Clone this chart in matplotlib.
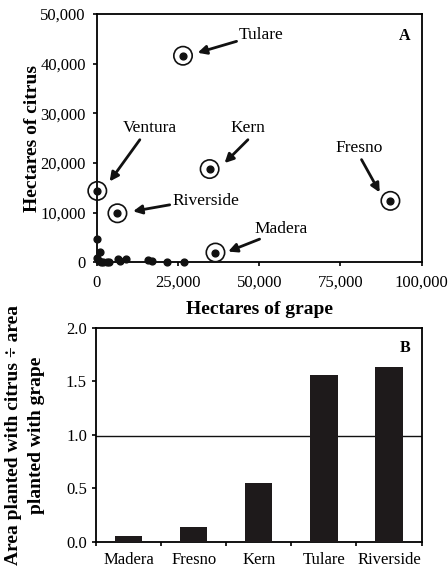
import matplotlib.pyplot as plt
import numpy as np

plt.rcParams['font.family'] = ['Liberation Serif', 'DejaVu Serif']

# panel A: counties, hectares of grape vs hectares of citrus
grape = [26500, 34700, 90400, 100, 6300, 36500,
         0, 800, 0, 500, 1200, 2000, 3000, 3800, 6500, 7000, 8800,
         15700, 16800, 21600, 26800]
citrus = [41600, 18800, 12400, 14400, 9900, 2000,
          4700, 2200, 900, 200, 100, 0, 100, 0, 700, 300, 700,
          500, 200, 0, 100]
labelled = ['Tulare', 'Kern', 'Fresno', 'Ventura', 'Riverside', 'Madera']

# panel B: ratio citrus / grape
counties = ['Madera', 'Fresno', 'Kern', 'Tulare', 'Riverside']
ratio = [0.06, 0.14, 0.55, 1.56, 1.63]

# text position, arrow tail, arrow head (data coords)
notes = {
    'Tulare': ((50700, 45800), (43000, 44500), (31000, 42200)),
    'Kern': ((46500, 27000), (46500, 24700), (39300, 20000)),
    'Fresno': ((80900, 23000), (81500, 20700), (87100, 14100)),
    'Ventura': ((16200, 27000), (13200, 24700), (3900, 16300)),
    'Riverside': ((33400, 12300), (22400, 11600), (11100, 10300)),
    'Madera': ((56800, 6700), (50100, 4700), (40400, 2200)),
}

fig = plt.figure(figsize=(4.48, 5.69), dpi=100)
ax1 = fig.add_axes([0.2165, 0.5387, 0.7245, 0.4367])
ax2 = fig.add_axes([0.2143, 0.0475, 0.7267, 0.3766])

ax1.scatter(grape, citrus, s=24, color='#111111', zorder=3, clip_on=False)
n = len(labelled)
ax1.scatter(grape[:n], citrus[:n], s=175, facecolors='none', edgecolors='#111111',
            linewidths=1.2, zorder=3, clip_on=False)
for name in labelled:
    (tx, ty), (ax_, ay), (hx, hy) = notes[name]
    ax1.text(tx, ty, name, ha='center', va='center', fontsize=12.5)
    ax1.annotate('', xy=(hx, hy), xytext=(ax_, ay),
                 arrowprops=dict(arrowstyle='-|>', color='#111111', lw=2.0,
                                 mutation_scale=13, shrinkA=0, shrinkB=0))
ax1.text(0.965, 0.91, 'A', transform=ax1.transAxes, ha='right', va='center',
         fontsize=11.5, fontweight='bold')
ax1.set_xlim(0, 100000)
ax1.set_ylim(0, 50000)
ax1.set_xticks([0, 25000, 50000, 75000, 100000])
ax1.set_yticks([0, 10000, 20000, 30000, 40000, 50000])
ax1.set_xticklabels(['0', '25,000', '50,000', '75,000', '100,000'])
ax1.set_yticklabels(['0', '10,000', '20,000', '30,000', '40,000', '50,000'])
ax1.set_xlabel('Hectares of grape', fontsize=14, fontweight='bold')
ax1.set_ylabel('Hectares of citrus', fontsize=14, fontweight='bold')
ax1.xaxis.set_label_coords(0.5, -0.19)
ax1.xaxis.label.set_va('center')
ax1.yaxis.set_label_coords(-0.2, 0.5)
ax1.yaxis.label.set_va('center')
ax1.tick_params(axis='x', pad=6)
ax1.tick_params(axis='y', pad=5)

xpos = np.arange(len(counties))
ax2.bar(xpos, ratio, width=0.42, color='#1e1a1b', zorder=3)
ax2.axhline(0.99, color='#111111', lw=1.0, zorder=2)
ax2.set_xlim(-0.5, len(counties) - 0.5)
ax2.set_ylim(0, 2.0)
ax2.set_yticks([0.0, 0.5, 1.0, 1.5, 2.0])
ax2.set_yticklabels(['0.0', '0.5', '1.0', '1.5', '2.0'])
ax2.set_xticks(np.arange(len(counties) + 1) - 0.5)
ax2.set_xticklabels([])
ax2.set_xticks(xpos, minor=True)
ax2.set_xticklabels(counties, minor=True)
ax2.tick_params(axis='x', which='minor', length=0, pad=7)
ax2.tick_params(axis='y', pad=3.5)
ax2.text(0.965, 0.905, 'B', transform=ax2.transAxes, ha='right', va='center',
         fontsize=11.5, fontweight='bold')
ax2.set_ylabel('Area planted with citrus \u00f7 area\nplanted with grape',
               fontsize=14, fontweight='bold', linespacing=1.45)
ax2.yaxis.set_label_coords(-0.218, 0.5)
ax2.yaxis.label.set_va('center')

for ax in (ax1, ax2):
    for sp in ax.spines.values():
        sp.set_linewidth(1.3)
    ax.tick_params(axis='both', which='major', direction='out', length=3,
                   width=1.2, labelsize=12)
    ax.tick_params(axis='x', which='minor', labelsize=12)

fig.savefig('out.png', dpi=100)
